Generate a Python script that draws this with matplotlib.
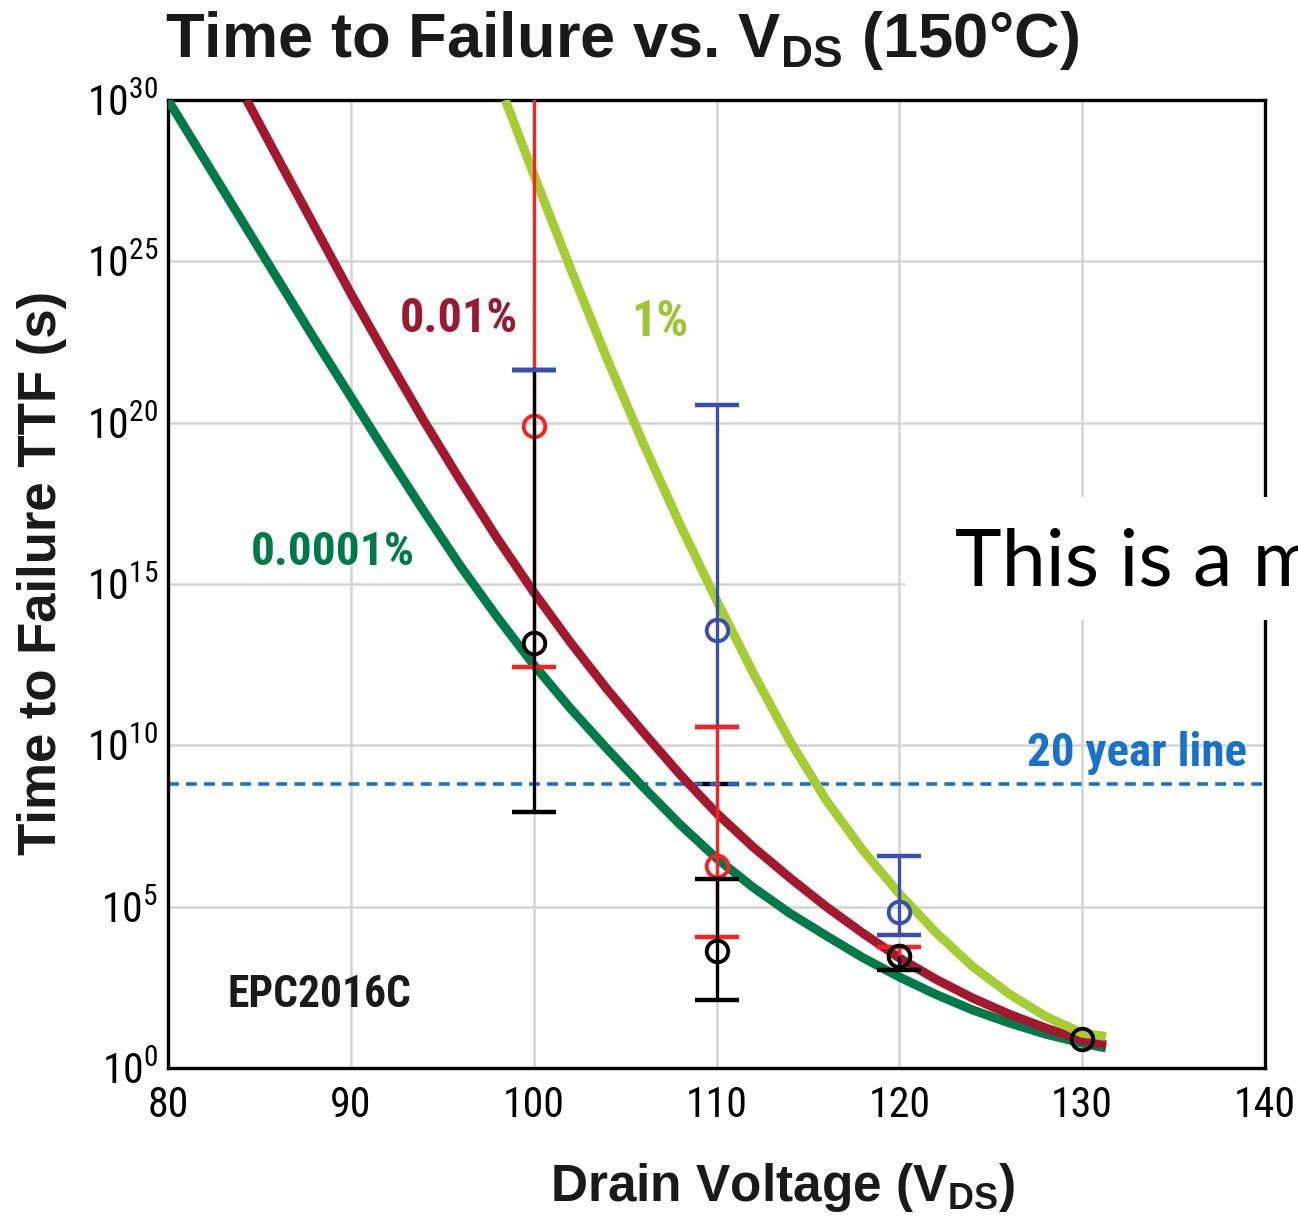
import os
import matplotlib
matplotlib.use('Agg')
import matplotlib.pyplot as plt
import numpy as np
from matplotlib import font_manager as fm
from matplotlib.font_manager import FontProperties
from matplotlib.patches import Rectangle
from matplotlib.textpath import TextToPath
from matplotlib.ticker import FixedLocator, FuncFormatter

plt.rcParams['font.family'] = ['Liberation Sans', 'DejaVu Sans']
plt.rcParams['mathtext.fontset'] = 'custom'
plt.rcParams['mathtext.rm'] = 'Liberation Sans'
plt.rcParams['mathtext.bf'] = 'Liberation Sans:bold'

## curve data (drain voltage, log10 of TTF in s) ##
green_v = [80, 82, 84, 86, 88, 90, 92, 94, 96, 98, 100, 102, 104, 106, 108, 110,
           112, 114, 116, 118, 120, 122, 124, 126, 128, 130, 131.3]
green_log = [30.0, 28.15, 26.3, 24.45, 22.6, 20.8, 19.0, 17.25, 15.55, 13.98, 12.5,
             11.15, 9.9, 8.7, 7.55, 6.5, 5.6, 4.8, 4.1, 3.42, 2.82, 2.28, 1.8, 1.4,
             1.05, 0.77, 0.62]

red_v = [84.3, 86, 88, 90, 92, 94, 96, 98, 100, 102, 104, 106, 108, 110, 112, 114,
         116, 118, 120, 122, 124, 126, 128, 130, 131.3]
red_log = [30.0, 28.2, 26.1, 24.0, 22.0, 20.05, 18.2, 16.42, 14.75, 13.2, 11.75, 10.4,
           9.1, 7.9, 6.85, 5.9, 5.0, 4.18, 3.41, 2.75, 2.17, 1.67, 1.24, 0.87, 0.72]

yellow_v = [98.45, 100, 102, 104, 106, 108, 110, 112, 114, 116, 118, 120, 122, 124,
            126, 128, 130, 131.3]
yellow_log = [30.0, 27.7, 24.8, 22.0, 19.35, 16.85, 14.5, 12.25, 10.15, 8.3, 6.75, 5.4,
              4.2, 3.15, 2.3, 1.6, 1.08, 0.98]

## measured points with error bars (log10 s) ##
blue_v = [110, 120]
blue_y = [13.57, 4.83]
blue_lo = [10.57, 4.12]
blue_hi = [20.55, 6.57]

red_pt_v = [100, 110, 120]
red_pt_y = [19.89, 6.26, 3.47]
red_pt_lo = [12.43, 4.06, 3.47]
red_pt_hi = [31.0, 10.57, 3.75]

black_v = [100, 110, 120, 130]
black_y = [13.17, 3.63, 3.47, 0.90]
black_lo = [7.93, 2.10, 3.04, 0.90]
black_hi = [21.63, 5.86, 3.47, 0.90]

# stray caps
blue_cap_v = [100]
blue_cap = [21.63]
black_cap_v = [110]
black_cap = [8.8]

twenty_years = 20 * 365.25 * 86400.0

x_ticks = [80, 90, 100, 110, 120, 130, 140]
y_ticks = [0, 5, 10, 15, 20, 25, 30]


# look for a narrow / condensed face, else plain Liberation Sans
def pick_font(names):
    files = {os.path.basename(f.fname).lower(): f.fname for f in fm.fontManager.ttflist}
    for n in names:
        if n.lower() in files:
            return FontProperties(fname=files[n.lower()])
    return None


fp_bold = pick_font(['LiberationSansNarrow-Bold.ttf', 'RobotoCondensed-Bold.ttf',
                     'NotoSans-CondensedBold.ttf', 'OpenSans_Condensed-Bold.ttf',
                     'OpenSans-CondBold.ttf', 'Lato-Bold.ttf'])
if fp_bold is None:
    fp_bold = FontProperties(family=['Liberation Sans', 'DejaVu Sans'], weight='bold')
fp_reg = pick_font(['LiberationSansNarrow-Regular.ttf', 'RobotoCondensed-Regular.ttf',
                    'NotoSans-Condensed.ttf', 'OpenSans_Condensed-Regular.ttf',
                    'RobotoCondensed-Light.ttf', 'Roboto-Light.ttf'])
if fp_reg is None:
    fp_reg = FontProperties(family=['Liberation Sans', 'DejaVu Sans'])

t2p = TextToPath()


def fitted(fp, s, width_px, max_size):
    p = fp.copy()
    p.set_size(100)
    w = t2p.get_text_width_height_descent(s, p, ismath=False)[0] * 100 / 72.0
    p.set_size(min(max_size, 100 * width_px / w))
    return p


W, H = 1298, 1218
fig = plt.figure(figsize=(W / 100, H / 100), dpi=100)
ax = fig.add_axes([168 / W, 1 - 1068 / H, (1265 - 168) / W, (1068 - 100) / H])

ax.set_yscale('log')
ax.set_xlim(80, 140)
ax.set_ylim(1, 1e30)
ax.xaxis.set_major_locator(FixedLocator(x_ticks))
ax.yaxis.set_major_locator(FixedLocator([10.0 ** e for e in y_ticks]))
ax.yaxis.set_minor_locator(FixedLocator([]))
ax.yaxis.set_major_formatter(FuncFormatter(
    lambda v, p: r'$\mathregular{10^{%d}}$' % int(round(np.log10(v)))))
ax.tick_params(length=0)
ax.tick_params(axis='x', pad=12)
ax.tick_params(axis='y', pad=7)
tick_fp = fitted(fp_reg, '100', 62, 31)
plt.setp(ax.get_xticklabels(), fontproperties=tick_fp)
plt.setp(ax.get_yticklabels(), fontproperties=tick_fp)
ax.grid(True, color='#d4d4d4', linewidth=1.8, zorder=0)
ax.set_axisbelow(True)
for s in ax.spines.values():
    s.set_linewidth(2.4)

# 20 year line
ax.axhline(twenty_years, color='#1a72c8', linestyle=(0, (3, 2)), linewidth=2.6, zorder=2)

# model curves
ax.plot(green_v, 10.0 ** np.array(green_log), color='#007a4a', linewidth=6.5,
        solid_capstyle='butt', solid_joinstyle='round', zorder=3)
ax.plot(red_v, 10.0 ** np.array(red_log), color='#a3172f', linewidth=6.5,
        solid_capstyle='butt', solid_joinstyle='round', zorder=3.1)
ax.plot(yellow_v, 10.0 ** np.array(yellow_log), color='#a6cc33', linewidth=6.5,
        solid_capstyle='butt', solid_joinstyle='round', zorder=3.2)


def draw_points(v, y, lo, hi, color, z):
    v = np.array(v)
    y = 10.0 ** np.array(y)
    lo = 10.0 ** np.array(lo)
    hi = 10.0 ** np.array(hi)
    has_bar = hi > lo
    ax.vlines(v[has_bar], lo[has_bar], hi[has_bar], color=color, linewidth=2.4, zorder=z)
    m = lo < y
    ax.plot(v[m], lo[m], linestyle='none', marker='_', ms=31, mew=3.2, color=color, zorder=z)
    m = hi > y
    ax.plot(v[m], hi[m], linestyle='none', marker='_', ms=31, mew=3.2, color=color, zorder=z)
    ax.plot(v, y, linestyle='none', marker='o', ms=15.5, mfc='none', mew=2.8,
            mec=color, zorder=z + 0.5)


# this cap sits under the dashed line
ax.plot(black_cap_v, 10.0 ** np.array(black_cap), linestyle='none', marker='_',
        ms=31, mew=3.2, color='black', zorder=1.9)
draw_points(blue_v, blue_y, blue_lo, blue_hi, '#3a4db5', 4.2)
draw_points(red_pt_v, red_pt_y, red_pt_lo, red_pt_hi, '#ff1f1f', 5)
draw_points(black_v, black_y, black_lo, black_hi, 'black', 6)
ax.plot(blue_cap_v, 10.0 ** np.array(blue_cap), linestyle='none', marker='_',
        ms=31, mew=3.2, color='#3a4db5', zorder=7)

# curve labels
ax.text(95.9, 10 ** 23.2, '0.01%', color='#9b1832', ha='center', va='center', zorder=8,
        fontproperties=fitted(fp_bold, '0.01%', 118, 36))
ax.text(106.9, 10 ** 23.1, '1%', color='#9fc436', ha='center', va='center', zorder=8,
        fontproperties=fitted(fp_bold, '1%', 60, 36))
ax.text(89.0, 10 ** 16.0, '0.0001%', color='#007a4a', ha='center', va='center', zorder=8,
        fontproperties=fitted(fp_bold, '0.0001%', 164, 36))
ax.text(88.3, 10 ** 2.26, 'EPC2016C', color='#1a1a1a', ha='center', va='center', zorder=8,
        fontproperties=fitted(fp_bold, 'EPC2016C', 184, 34))
ax.text(139.0, 10 ** 9.75, '20 year line', color='#1a72c8', ha='right', va='center',
        zorder=8, fontproperties=fitted(fp_bold, '20 year line', 220, 34))

# titles
fig.text(622 / W, 1 - 40 / H, r'Time to Failure vs. V$_{\mathregular{DS}}$ (150°C)',
         fontsize=45.5, weight='bold', color='#1a1a1a', ha='center', va='center')
fig.text(42 / W, 1 - 573 / H, 'Time to Failure TTF (s)', fontsize=38, weight='bold',
         color='#1a1a1a', rotation=90, ha='center', va='center')
fig.text(783 / W, 1 - 1188 / H, r'Drain Voltage (V$_{\mathregular{DS}}$)', fontsize=37,
         weight='bold', color='#1a1a1a', ha='center', va='center')

# white overlay box with cut-off text
fig.add_artist(Rectangle((905 / W, 1 - 620 / H), 500 / W, 123 / H, transform=fig.transFigure,
                         facecolor='white', edgecolor='none', zorder=20))
fig.text(955 / W, 1 - 585 / H, 'This is a model', fontsize=57,
         family=['Lato', 'Open Sans', 'DejaVu Sans'],
         color='black', ha='left', va='baseline', zorder=21)

fig.savefig('out.png', dpi=100)
